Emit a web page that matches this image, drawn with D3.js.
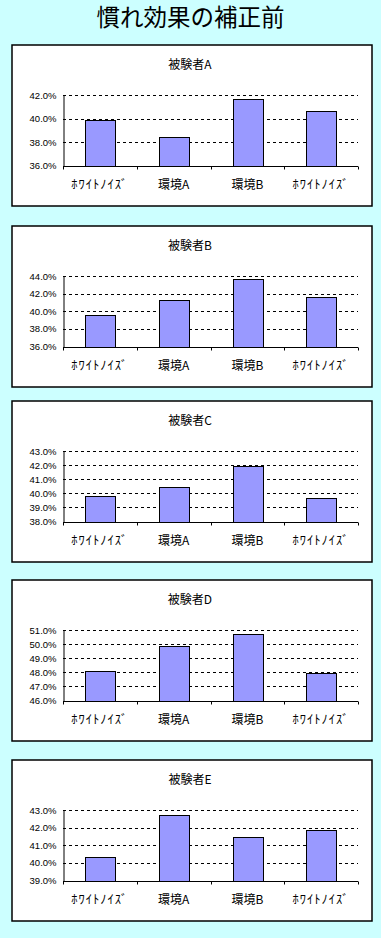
<!DOCTYPE html>
<html>
<head>
<meta charset="utf-8">
<script src="https://cdn.jsdelivr.net/npm/d3@7"></script>
<style>
  html, body { margin: 0; padding: 0; background: #CCFFFF; }
  svg { display: block; }
  text { font-family: "Noto Sans CJK JP", "Noto Sans", sans-serif; }
</style>
</head>
<body>
<svg id="chart" width="381" height="938"></svg>
<script>
// ---- data ----
const mainTitle = "慣れ効果の補正前";
const categories = ["ﾎﾜｲﾄﾉｲｽﾞ", "環境A", "環境B", "ﾎﾜｲﾄﾉｲｽﾞ"];
const subjects = ["被験者A", "被験者B", "被験者C", "被験者D", "被験者E"];
const valuesA = [39.9, 38.43, 41.64, 40.62];
const valuesB = [39.56, 41.29, 43.63, 41.59];
const valuesC = [39.8, 40.45, 41.95, 39.66];
const valuesD = [48.1, 49.88, 50.7, 47.97];
const valuesE = [40.33, 42.72, 41.48, 41.86];
const ticksA = [36, 38, 40, 42];
const ticksB = [36, 38, 40, 42, 44];
const ticksC = [38, 39, 40, 41, 42, 43];
const ticksD = [46, 47, 48, 49, 50, 51];
const ticksE = [39, 40, 41, 42, 43];

const panels = [
  { title: subjects[0], values: valuesA, ticks: ticksA, top: 45 },
  { title: subjects[1], values: valuesB, ticks: ticksB, top: 226 },
  { title: subjects[2], values: valuesC, ticks: ticksC, top: 401 },
  { title: subjects[3], values: valuesD, ticks: ticksD, top: 580 },
  { title: subjects[4], values: valuesE, ticks: ticksE, top: 760 }
];

// ---- layout ----
const svg = d3.select("#chart");
const panelX = 12, panelW = 360, panelH = 161;
const plotLeft = 51, plotRight = 346;   // relative to panel
const plotTop = 50, plotBottom = 120.5; // relative to panel
const fmt = d3.format(".1f");
const isHalfKana = s => /[\uFF61-\uFF9F]/.test(s);

svg.append("text")
  .attr("x", 190.5).attr("y", 16)
  .attr("text-anchor", "middle")
  .attr("dominant-baseline", "central")
  .attr("font-size", 23.5)
  .attr("font-weight", 400)
  .attr("fill", "#000")
  .text(mainTitle);

panels.forEach(p => {
  const g = svg.append("g").attr("transform", `translate(${panelX},${p.top})`);

  g.append("rect")
    .attr("x", 0).attr("y", 0)
    .attr("width", panelW).attr("height", panelH)
    .attr("fill", "#fff")
    .attr("stroke", "#000")
    .attr("stroke-width", 1.5);

  g.append("text")
    .attr("x", 178).attr("y", 18)
    .attr("text-anchor", "middle")
    .attr("dominant-baseline", "central")
    .attr("font-size", 12)
    .attr("fill", "#000")
    .text(p.title);

  const idx = categories.map((c, i) => i);
  const xOuter = d3.scaleBand().domain(idx).range([plotLeft, plotRight]).padding(0);
  const xBar = d3.scaleBand().domain(idx).range([plotLeft, plotRight])
    .paddingInner(0.6).paddingOuter(0.3);
  const y = d3.scaleLinear()
    .domain([p.ticks[0], p.ticks[p.ticks.length - 1]])
    .range([plotBottom, plotTop]);

  // gridlines (dashed), except baseline
  g.append("g").selectAll("line")
    .data(p.ticks.slice(1))
    .join("line")
    .attr("x1", plotLeft).attr("x2", plotRight)
    .attr("y1", d => Math.round(y(d)) + 0.5).attr("y2", d => Math.round(y(d)) + 0.5)
    .attr("stroke", "#000")
    .attr("stroke-width", 1)
    .attr("stroke-dasharray", "3,3");

  // bars
  g.append("g").selectAll("rect")
    .data(p.values)
    .join("rect")
    .attr("x", (d, i) => Math.round(xBar(i)) + 0.5)
    .attr("width", Math.round(xBar.bandwidth()))
    .attr("y", d => Math.round(y(d)) + 0.5)
    .attr("height", d => Math.round(y(p.ticks[0])) - Math.round(y(d)))
    .attr("fill", "#9999FF")
    .attr("stroke", "#000")
    .attr("stroke-width", 1);

  // y axis
  const yAxis = d3.axisLeft(y)
    .tickValues(p.ticks)
    .tickSize(0)
    .tickPadding(7)
    .tickFormat(d => fmt(d) + "%");
  const ya = g.append("g")
    .attr("transform", `translate(${Math.round(plotLeft) + 0.5},0)`)
    .call(yAxis);
  ya.select(".domain").attr("stroke", "#000").attr("stroke-width", 1);
  ya.selectAll("text")
    .attr("font-size", 9.5)
    .attr("fill", "#000")
    .style("font-family", "'Liberation Sans', Arial, sans-serif");

  // x axis: line + ticks at category boundaries
  const base = Math.round(y(p.ticks[0])) + 0.5;
  g.append("line")
    .attr("x1", plotLeft).attr("x2", plotRight)
    .attr("y1", base).attr("y2", base)
    .attr("stroke", "#000").attr("stroke-width", 1);
  const bounds = idx.map(i => xOuter(i)).concat([xOuter(idx[idx.length - 1]) + xOuter.bandwidth()]);
  g.append("g").selectAll("line")
    .data(bounds)
    .join("line")
    .attr("x1", d => Math.round(d) + 0.5).attr("x2", d => Math.round(d) + 0.5)
    .attr("y1", base).attr("y2", base + 3)
    .attr("stroke", "#000").attr("stroke-width", 1);

  // category labels
  g.append("g").selectAll("text")
    .data(categories)
    .join("text")
    .attr("x", (d, i) => xOuter(i) + xOuter.bandwidth() / 2)
    .attr("y", 138)
    .attr("text-anchor", "middle")
    .attr("dominant-baseline", "central")
    .attr("font-size", d => isHalfKana(d) ? 12.5 : 12)
    .attr("letter-spacing", d => isHalfKana(d) ? 1 : 0)
    .attr("fill", "#000")
    .text(d => d);
});
</script>
</body>
</html>
